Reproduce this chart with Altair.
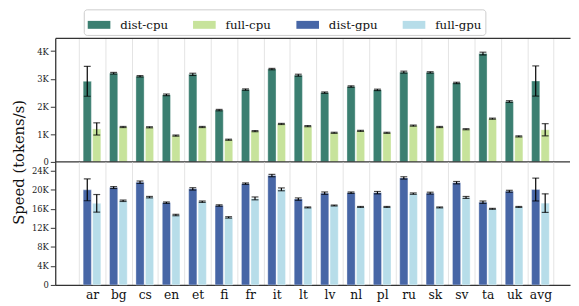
import altair as alt
import pandas as pd

langs = ["ar", "bg", "cs", "en", "et", "fi", "fr", "it", "lt", "lv",
         "nl", "pl", "ru", "sk", "sv", "ta", "uk", "avg"]

dist_cpu = [2910, 3200, 3090, 2420, 3160, 1870, 2610, 3350, 3130, 2500,
            2720, 2600, 3240, 3230, 2850, 3910, 2180, 2920]
dist_cpu_err = [540, 30, 25, 30, 40, 25, 25, 25, 35, 25,
                25, 25, 35, 25, 25, 50, 30, 545]
full_cpu = [1190, 1260, 1250, 950, 1260, 800, 1110, 1370, 1290, 1050,
            1120, 1050, 1310, 1260, 1180, 1560, 920, 1160]
full_cpu_err = [220, 20, 20, 20, 20, 20, 20, 20, 20, 20,
                20, 20, 20, 20, 20, 20, 20, 220]

dist_gpu = [20000, 20480, 21600, 17300, 20200, 16700, 21300, 23000, 18050, 19300,
            19400, 19400, 22500, 19300, 21500, 17400, 19700, 20060]
dist_gpu_err = [2300, 200, 250, 150, 250, 150, 150, 250, 250, 250,
                150, 250, 250, 200, 250, 250, 200, 2400]
full_gpu = [17160, 17700, 18460, 14700, 17500, 14200, 18200, 20100, 16300, 16700,
            16400, 16400, 19200, 16300, 18400, 16000, 16400, 17200]
full_gpu_err = [1850, 150, 150, 150, 150, 150, 300, 300, 100, 100,
                100, 100, 150, 100, 200, 100, 100, 1950]

series_names = ["dist-cpu", "full-cpu", "dist-gpu", "full-gpu"]
series_colors = ["#3b7f71", "#c7e39b", "#4766a6", "#b7dde9"]

rows = []
for name, vals, errs, kind, dev in [
    ("dist-cpu", dist_cpu, dist_cpu_err, "dist", "cpu"),
    ("full-cpu", full_cpu, full_cpu_err, "full", "cpu"),
    ("dist-gpu", dist_gpu, dist_gpu_err, "dist", "gpu"),
    ("full-gpu", full_gpu, full_gpu_err, "full", "gpu"),
]:
    for l, v, e in zip(langs, vals, errs):
        rows.append({"lang": l, "series": name, "kind": kind, "dev": dev,
                     "value": v, "lo": v - e, "hi": v + e})
df = pd.DataFrame(rows)
cpu = df[df.dev == "cpu"]
gpu = df[df.dev == "gpu"]

FONT = "DejaVu Serif"
W = 523
xscale = alt.Scale(paddingInner=0, paddingOuter=0.757, align=0.59)
xoff = alt.XOffset("kind:N", sort=["dist", "full"],
                   scale=alt.Scale(paddingInner=0.135, paddingOuter=0.46))
color_scale = alt.Scale(domain=series_names, range=series_colors)
label_expr = "datum.value == 0 ? '0' : (datum.value / 1000) + 'K'"


def panel(data, ymax, yvals, xaxis, yaxis_extra, legend, height, extra_layers=()):
    x = alt.X("lang:N", sort=langs, scale=xscale, axis=xaxis)
    yax = alt.Axis(values=yvals, labelExpr=label_expr, grid=False, labelOverlap=False,
                   **yaxis_extra)
    ysc = alt.Scale(domain=[0, ymax], nice=False, zero=True)
    base = alt.Chart(data)
    bars = base.mark_bar(stroke="white", strokeWidth=0.5, strokeOpacity=0.7).encode(
        x=x, xOffset=xoff,
        y=alt.Y("value:Q", scale=ysc, axis=yax),
        color=alt.Color("series:N", scale=color_scale, legend=legend),
    )
    err = base.mark_rule(color="black", strokeWidth=1.2).encode(
        x=x, xOffset=xoff, y=alt.Y("lo:Q", scale=ysc, axis=yax), y2="hi:Q")
    cap_lo = base.mark_tick(color="black", size=7, thickness=1.2, orient="horizontal").encode(
        x=x, xOffset=xoff, y=alt.Y("lo:Q", scale=ysc, axis=yax))
    cap_hi = base.mark_tick(color="black", size=7, thickness=1.2, orient="horizontal").encode(
        x=x, xOffset=xoff, y=alt.Y("hi:Q", scale=ysc, axis=yax))
    layers = [bars, err, cap_lo, cap_hi]
    for lay in extra_layers:
        layers.append(lay.encode(y=alt.Y("z:Q", scale=ysc, axis=yax)))
    return alt.layer(*layers).properties(width=W, height=height)


top_xaxis = alt.Axis(orient="top", labels=False, ticks=False, title=None, domain=True,
                     grid=True, tickBand="extent")
bottom_xaxis = alt.Axis(orient="bottom", labels=True, ticks=False, title=None, domain=True,
                        grid=True, tickBand="extent", labelAngle=0, labelFontSize=12.5,
                        labelPadding=4, labelColor="#111")

legend = alt.Legend(orient="none", legendX=29, legendY=-29, direction="horizontal",
                    title=None, fillColor="white", strokeColor="#cccccc", cornerRadius=3,
                    padding=4, columnPadding=25, labelOffset=10,
                    symbolType="M-1,-0.35H1V0.35H-1Z", symbolSize=529, symbolStrokeWidth=0,
                    symbolOpacity=1, labelFont=FONT, labelFontSize=12, labelColor="#111")

zero_df = pd.DataFrame({"z": [0]})
zero_rule = alt.Chart(zero_df).mark_rule(color="#333333", strokeWidth=1.3)

top = panel(cpu, 4476, [0, 1000, 2000, 3000, 4000], top_xaxis,
            dict(title="Speed (tokens/s)", titleFont=FONT, titleFontSize=15,
                 titleFontWeight="normal", titleColor="#111", titleY=126, titleX=-44,
                 titleAlign="center", titleBaseline="top", titleAngle=270),
            legend, 126, extra_layers=(zero_rule,))
bottom = panel(gpu, 25870, [0, 4000, 8000, 12000, 16000, 20000, 24000], bottom_xaxis,
               dict(title=None), None, 125)

chart = alt.vconcat(top, bottom, spacing=0, bounds="flush").resolve_scale(
    color="independent", y="independent"
).resolve_legend(color="independent").properties(
    padding={"left": 4, "top": -2, "right": 0, "bottom": 0}
).configure_view(stroke=None).configure_axis(
    labelFont=FONT, labelFontSize=8.5, labelColor="#222", domainColor="#333333",
    domainWidth=1.3, tickColor="#333333", tickSize=5, tickWidth=1, labelPadding=2,
    gridColor="#e3e3e3", gridWidth=1
)

chart.save("out.html", embed_options={"renderer": "svg", "actions": False})
